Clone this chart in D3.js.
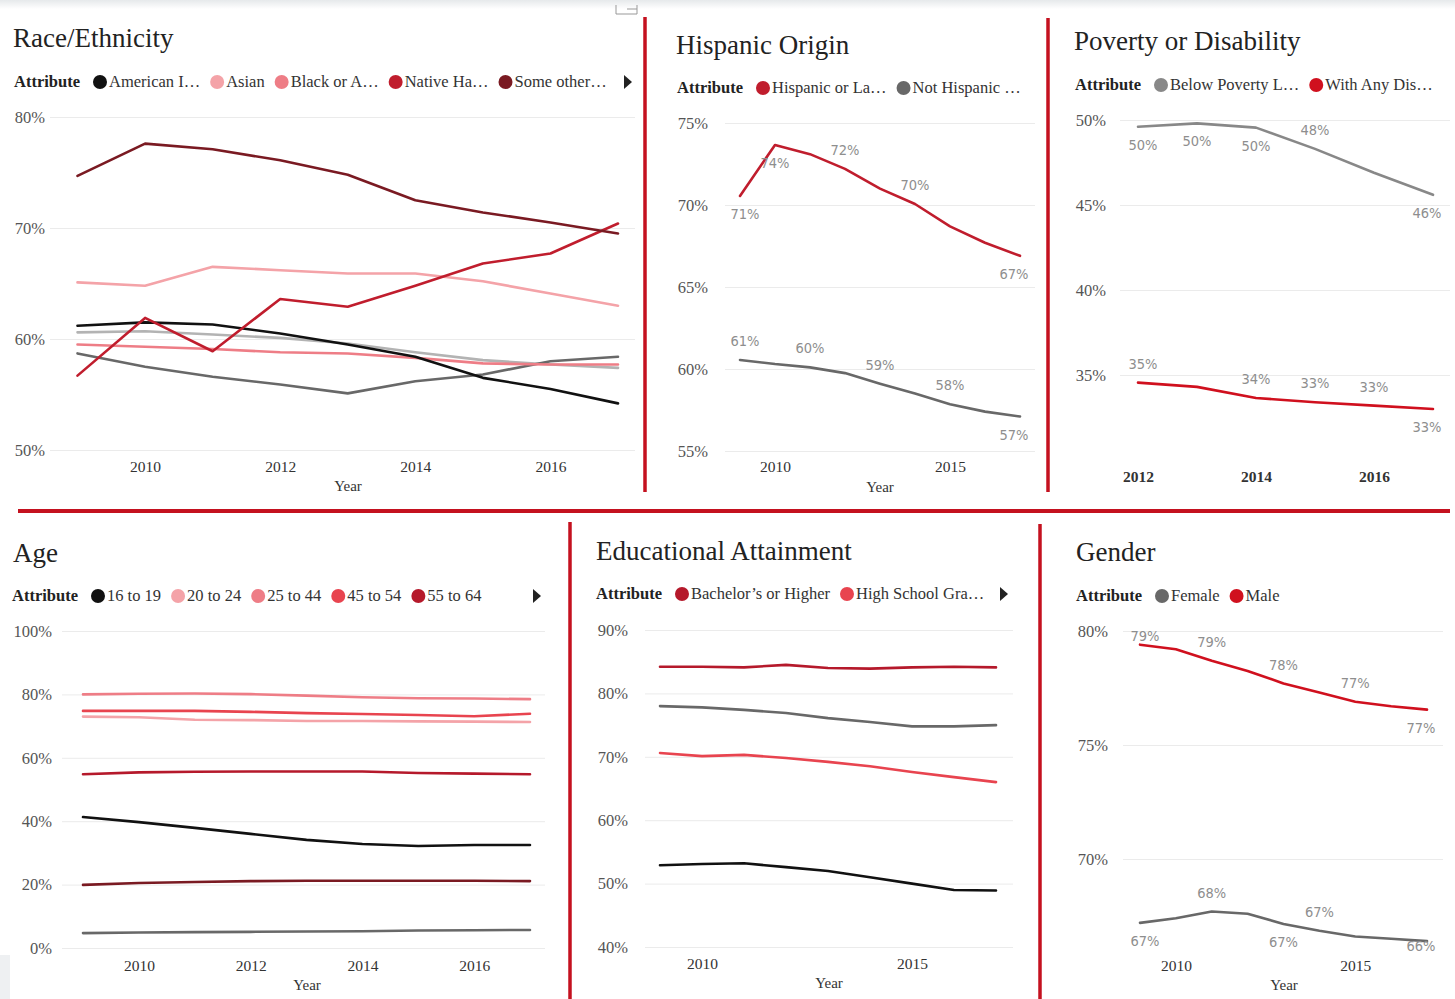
<!DOCTYPE html>
<html>
<head>
<meta charset="utf-8">
<script src="https://cdn.jsdelivr.net/npm/d3@7"></script>
<style>
  body { margin: 0; background: #fff; }
  svg { display: block; }
</style>
</head>
<body>
<svg id="chart" width="1455" height="999"></svg>
<script>
// ---- data ----
var years = [2009, 2010, 2011, 2012, 2013, 2014, 2015, 2016, 2017]
var povertyYears = [2012, 2013, 2014, 2015, 2016, 2017]

var raceAmericanIndian = [61.2, 61.5, 61.3, 60.5, 59.5, 58.4, 56.5, 55.5, 54.2]
var raceAsian = [65.1, 64.8, 66.5, 66.2, 65.9, 65.9, 65.2, 64.1, 63.0]
var raceBlack = [59.5, 59.3, 59.1, 58.8, 58.7, 58.3, 57.8, 57.7, 57.7]
var raceNativeHawaiian = [56.7, 61.9, 58.9, 63.6, 62.9, 64.8, 66.8, 67.7, 70.4]
var raceSomeOther = [74.7, 77.6, 77.1, 76.1, 74.8, 72.5, 71.4, 70.5, 69.5]
var raceTwoOrMore = [60.6, 60.7, 60.4, 60.1, 59.6, 58.8, 58.1, 57.7, 57.4]
var raceWhite = [58.7, 57.5, 56.6, 55.9, 55.1, 56.2, 56.8, 58.0, 58.4]

var hispanicLatino = [70.55, 73.66, 73.1, 72.2, 71.0, 70.06, 68.7, 67.7, 66.9]
var notHispanic = [60.55, 60.3, 60.1, 59.75, 59.1, 58.5, 57.85, 57.4, 57.1]

var belowPoverty = [49.6, 49.8, 49.55, 48.3, 46.9, 45.6]
var withDisability = [34.55, 34.3, 33.65, 33.4, 33.2, 33.0]

var age16to19 = [41.3, 39.7, 37.9, 36.0, 34.1, 32.8, 32.2, 32.5, 32.5]
var age20to24 = [73.0, 72.8, 72.0, 71.9, 71.6, 71.6, 71.5, 71.4, 71.3]
var age25to44 = [80.0, 80.2, 80.3, 80.1, 79.6, 79.1, 78.8, 78.7, 78.5]
var age45to54 = [74.8, 74.8, 74.8, 74.5, 74.1, 73.8, 73.5, 73.1, 73.9]
var age55to64 = [54.8, 55.4, 55.6, 55.7, 55.7, 55.7, 55.2, 55.0, 54.8]
var age65to74 = [19.9, 20.5, 20.8, 21.1, 21.2, 21.2, 21.2, 21.2, 21.1]
var age75plus = [4.7, 4.9, 5.0, 5.1, 5.2, 5.3, 5.5, 5.6, 5.7]

var eduBachelors = [84.2, 84.2, 84.1, 84.5, 84.0, 83.9, 84.1, 84.2, 84.1]
var eduSomeCollege = [78.0, 77.8, 77.4, 76.9, 76.1, 75.5, 74.8, 74.8, 75.0]
var eduHighSchool = [70.6, 70.1, 70.3, 69.8, 69.2, 68.5, 67.6, 66.8, 66.0]
var eduLessThanHS = [52.9, 53.1, 53.2, 52.6, 52.0, 51.0, 50.0, 49.0, 48.9]

var genderFemale = [67.2, 67.4, 67.7, 67.6, 67.15, 66.85, 66.6, 66.5, 66.4]
var genderMale = [79.4, 79.2, 78.7, 78.25, 77.7, 77.3, 76.9, 76.7, 76.55]

// which points carry a data label: [index, 'a'bove / 'b'elow]
var hispanicLabels = [[0, 'b'], [1, 'b'], [3, 'a'], [5, 'a'], [8, 'b']]
var notHispanicLabels = [[0, 'a'], [2, 'a'], [4, 'a'], [6, 'a'], [8, 'b']]
var povertyLabels = [[0, 'b'], [1, 'b'], [2, 'b'], [3, 'a'], [5, 'b']]
var disabilityLabels = [[0, 'a'], [2, 'a'], [3, 'a'], [4, 'a'], [5, 'b']]
var maleLabels = [[0, 'a'], [2, 'a'], [4, 'a'], [6, 'a'], [8, 'b']]
var femaleLabels = [[0, 'b'], [2, 'a'], [4, 'b'], [5, 'a'], [8, 'b']]

var SERIF = '"Liberation Serif", "Times New Roman", serif'
var LABEL_FONT = '"DejaVu Sans Condensed", "DejaVu Sans", sans-serif'
var RED = '#c4111f'

var svg = d3.select('#chart')

// faint grey strip along the top of the screenshot
var grad = svg.append('defs').append('linearGradient')
  .attr('id', 'topfade').attr('x1', 0).attr('y1', 0).attr('x2', 0).attr('y2', 1)
grad.append('stop').attr('offset', 0).attr('stop-color', '#e6e9eb')
grad.append('stop').attr('offset', 1).attr('stop-color', '#ffffff')
svg.append('rect').attr('width', 1455).attr('height', 9).attr('fill', 'url(#topfade)')
svg.append('rect').attr('x', 0).attr('y', 955).attr('width', 10).attr('height', 44).attr('fill', '#eef0f2')

// little focus-mode icon
svg.append('path')
  .attr('d', 'M616,5 L616,14 L637,14 L637,5 M627,9 L637,9')
  .attr('fill', 'none').attr('stroke', '#999').attr('stroke-width', 1)

// red separators
var seps = [
  [645, 17, 645, 492], [1048, 18, 1048, 492],
  [18, 511, 1450, 511],
  [570, 522, 570, 999], [1040, 524, 1040, 999]
]
svg.selectAll('line.sep').data(seps).enter().append('line')
  .attr('class', 'sep')
  .attr('x1', function (d) { return d[0] })
  .attr('y1', function (d) { return d[1] })
  .attr('x2', function (d) { return d[2] })
  .attr('y2', function (d) { return d[3] })
  .attr('stroke', RED)
  .attr('stroke-width', function (d) { return d[1] === d[3] ? 4 : 3.5 })

function drawPanel (p) {
  var g = svg.append('g')

  g.append('text')
    .attr('x', p.titleX).attr('y', p.titleY)
    .style('font-family', SERIF).style('font-size', '27px').style('fill', '#222')
    .text(p.title)

  // legend
  var lg = g.append('g').attr('transform', 'translate(0,' + p.legendY + ')')
  var attr = lg.append('text')
    .attr('x', p.attrX).attr('y', 0).attr('dy', '0.33em')
    .style('font-family', SERIF).style('font-size', '16.5px').style('font-weight', 'bold').style('fill', '#222')
    .text('Attribute')
  var cx = p.attrX + attr.node().getComputedTextLength() + 20
  p.legend.forEach(function (item) {
    lg.append('circle').attr('cx', cx).attr('cy', 0).attr('r', 7).attr('fill', item.color)
    var t = lg.append('text')
      .attr('x', cx + 9).attr('y', 0).attr('dy', '0.33em')
      .style('font-family', SERIF).style('font-size', '16.5px').style('fill', '#333')
      .text(item.name)
    cx = cx + 9 + t.node().getComputedTextLength() + 17
  })
  if (p.arrowX) {
    lg.append('path')
      .attr('d', 'M' + (p.arrowX - 4) + ',-7 L' + (p.arrowX + 4) + ',0 L' + (p.arrowX - 4) + ',7 Z')
      .attr('fill', '#222')
  }

  var x = d3.scaleLinear().domain(p.xDomain).range(p.xRange)
  var y = d3.scaleLinear().domain(p.yDomain).range(p.yRange)

  var yAxis = g.append('g')
    .attr('transform', 'translate(' + p.gridX[0] + ',0)')
    .call(d3.axisLeft(y)
      .tickValues(p.yTicks)
      .tickFormat(function (d) { return d + '%' })
      .tickSize(-(p.gridX[1] - p.gridX[0]))
      .tickPadding(p.yPad))
  yAxis.select('.domain').remove()
  yAxis.selectAll('line').attr('stroke', '#ebebeb')
  yAxis.selectAll('text')
    .style('font-family', SERIF).style('font-size', '16.5px').style('fill', '#555')

  var xAxis = g.append('g')
    .attr('transform', 'translate(0,' + (p.xLabelY - 6) + ')')
    .call(d3.axisBottom(x).tickValues(p.xTicks).tickFormat(d3.format('d')).tickSize(0).tickPadding(0))
  xAxis.select('.domain').remove()
  xAxis.selectAll('text')
    .style('font-family', SERIF).style('font-size', '15.5px').style('fill', '#333')
    .style('font-weight', p.boldX ? 'bold' : 'normal')

  if (p.yearY) {
    g.append('text')
      .attr('x', p.yearX).attr('y', p.yearY).attr('dy', '0.33em')
      .attr('text-anchor', 'middle')
      .style('font-family', SERIF).style('font-size', '15px').style('fill', '#333')
      .text('Year')
  }

  var line = d3.line()
    .x(function (d) { return x(d.year) })
    .y(function (d) { return y(d.value) })

  p.series.forEach(function (s) {
    var pts = s.values.map(function (v, i) { return { year: p.years[i], value: v } })
    g.append('path')
      .datum(pts)
      .attr('d', line)
      .attr('fill', 'none')
      .attr('stroke', s.color)
      .attr('stroke-width', 2.6)
      .attr('stroke-linejoin', 'round')
      .attr('stroke-linecap', 'round')

    if (s.labels) {
      s.labels.forEach(function (l) {
        var i = l[0]
        var px = x(p.years[i])
        var py = y(s.values[i])
        var ly = l[1] === 'a' ? py - 19 : py + 18
        ly = Math.max(p.yRange[1] + 5, ly)
        if (p.labelMaxY) ly = Math.min(p.labelMaxY, ly)
        var dx = 0
        if (i === 0) dx = 5
        if (i === p.years.length - 1) dx = -6
        g.append('text')
          .attr('x', px + dx).attr('y', ly).attr('dy', '0.35em')
          .attr('text-anchor', 'middle')
          .style('font-family', LABEL_FONT).style('font-size', '14.5px').style('fill', '#8e8e8e')
          .text(Math.round(s.values[i]) + '%')
      })
    }
  })
}

var C = {
  black: '#111111',
  lightPink: '#f4a3a8',
  pink: '#ee7d86',
  red: '#e8444f',
  crimson: '#c01d2d',
  darkRed: '#b5192b',
  maroon: '#7a1a22',
  lightGrey: '#b3b3b3',
  grey: '#888888',
  darkGrey: '#686868',
  brightRed: '#d0101e'
}

drawPanel({
  title: 'Race/Ethnicity', titleX: 13, titleY: 47,
  legendY: 82, attrX: 14, arrowX: 628,
  legend: [
    { name: 'American I…', color: C.black },
    { name: 'Asian', color: C.lightPink },
    { name: 'Black or A…', color: C.pink },
    { name: 'Native Ha…', color: C.crimson },
    { name: 'Some other…', color: C.maroon }
  ],
  years: years, xDomain: [2009, 2017], xRange: [77.5, 618], xTicks: [2010, 2012, 2014, 2016], xLabelY: 467,
  yDomain: [50, 80], yRange: [450, 117], yTicks: [50, 60, 70, 80], gridX: [50, 635], yPad: 5,
  yearX: 348, yearY: 486,
  series: [
    { color: C.lightGrey, values: raceTwoOrMore },
    { color: C.darkGrey, values: raceWhite },
    { color: C.pink, values: raceBlack },
    { color: C.lightPink, values: raceAsian },
    { color: C.black, values: raceAmericanIndian },
    { color: C.crimson, values: raceNativeHawaiian },
    { color: C.maroon, values: raceSomeOther }
  ]
})

drawPanel({
  title: 'Hispanic Origin', titleX: 676, titleY: 54,
  legendY: 88, attrX: 677,
  legend: [
    { name: 'Hispanic or La…', color: C.crimson },
    { name: 'Not Hispanic …', color: C.darkGrey }
  ],
  years: years, xDomain: [2009, 2017], xRange: [740, 1020], xTicks: [2010, 2015], xLabelY: 467,
  yDomain: [55, 75], yRange: [451, 123], yTicks: [55, 60, 65, 70, 75], gridX: [725, 1035], yPad: 17,
  yearX: 880, yearY: 487,
  series: [
    { color: C.crimson, values: hispanicLatino, labels: hispanicLabels },
    { color: C.darkGrey, values: notHispanic, labels: notHispanicLabels }
  ]
})

drawPanel({
  title: 'Poverty or Disability', titleX: 1074, titleY: 50,
  legendY: 85, attrX: 1075,
  legend: [
    { name: 'Below Poverty L…', color: C.grey },
    { name: 'With Any Dis…', color: C.brightRed }
  ],
  years: povertyYears, xDomain: [2012, 2017], xRange: [1138, 1433], xTicks: [2012, 2014, 2016], xLabelY: 477, boldX: true,
  yDomain: [35, 50], yRange: [375, 120], yTicks: [35, 40, 45, 50], gridX: [1120, 1450], yPad: 14,
  series: [
    { color: C.grey, values: belowPoverty, labels: povertyLabels },
    { color: C.brightRed, values: withDisability, labels: disabilityLabels }
  ]
})

drawPanel({
  title: 'Age', titleX: 13, titleY: 562,
  legendY: 596, attrX: 12, arrowX: 537,
  legend: [
    { name: '16 to 19', color: C.black },
    { name: '20 to 24', color: C.lightPink },
    { name: '25 to 44', color: C.pink },
    { name: '45 to 54', color: C.red },
    { name: '55 to 64', color: C.darkRed }
  ],
  years: years, xDomain: [2009, 2017], xRange: [83, 530], xTicks: [2010, 2012, 2014, 2016], xLabelY: 966,
  yDomain: [0, 100], yRange: [948, 631], yTicks: [0, 20, 40, 60, 80, 100], gridX: [62, 545], yPad: 10,
  yearX: 307, yearY: 985,
  series: [
    { color: C.darkGrey, values: age75plus },
    { color: C.maroon, values: age65to74 },
    { color: C.black, values: age16to19 },
    { color: C.darkRed, values: age55to64 },
    { color: C.lightPink, values: age20to24 },
    { color: C.pink, values: age25to44 },
    { color: C.red, values: age45to54 }
  ]
})

drawPanel({
  title: 'Educational Attainment', titleX: 596, titleY: 560,
  legendY: 594, attrX: 596, arrowX: 1004,
  legend: [
    { name: 'Bachelor\u2019s or Higher', color: C.darkRed },
    { name: 'High School Gra…', color: C.red }
  ],
  years: years, xDomain: [2009, 2017], xRange: [660, 996], xTicks: [2010, 2015], xLabelY: 964,
  yDomain: [40, 90], yRange: [947, 630], yTicks: [40, 50, 60, 70, 80, 90], gridX: [645, 1013], yPad: 17,
  yearX: 829, yearY: 983,
  series: [
    { color: C.black, values: eduLessThanHS },
    { color: C.darkGrey, values: eduSomeCollege },
    { color: C.red, values: eduHighSchool },
    { color: C.darkRed, values: eduBachelors }
  ]
})

drawPanel({
  title: 'Gender', titleX: 1076, titleY: 561,
  legendY: 596, attrX: 1076,
  legend: [
    { name: 'Female', color: C.darkGrey },
    { name: 'Male', color: C.brightRed }
  ],
  years: years, xDomain: [2009, 2017], xRange: [1140, 1427], xTicks: [2010, 2015], xLabelY: 966,
  yDomain: [70, 80], yRange: [859, 631], yTicks: [70, 75, 80], gridX: [1123, 1443], yPad: 15,
  yearX: 1284, yearY: 985, labelMaxY: 946,
  series: [
    { color: C.darkGrey, values: genderFemale, labels: femaleLabels },
    { color: C.brightRed, values: genderMale, labels: maleLabels }
  ]
})
</script>
</body>
</html>
